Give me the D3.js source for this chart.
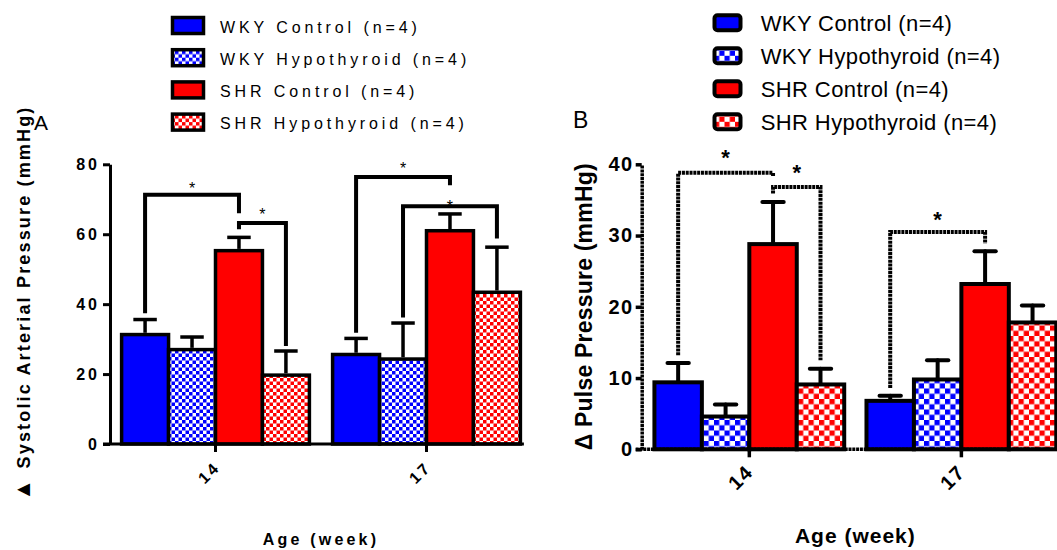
<!DOCTYPE html>
<html><head><meta charset="utf-8">
<script src="https://cdn.jsdelivr.net/npm/d3@7"></script>
<style>body{margin:0;background:#fff} svg{display:block;font-family:"Liberation Sans",Arial,sans-serif}</style>
</head><body><svg id="c" width="1057" height="550"></svg>
<script>
// ---------- DATA ----------
const ages = ["14", "17"];
const seriesNames = ["WKY Control (n=4)", "WKY Hypothyroid (n=4)", "SHR Control (n=4)", "SHR Hypothyroid (n=4)"];

// Panel A: Δ Systolic Arterial Pressure (mmHg), mean per age [14, 17]
const sapWkyControl = [31.3, 25.6];
const sapWkyHypo    = [27.0, 24.3];
const sapShrControl = [55.3, 61.0];
const sapShrHypo    = [19.7, 43.4];
// SEM
const sapSemWkyControl = [4.3, 4.6];
const sapSemWkyHypo    = [3.6, 10.3];
const sapSemShrControl = [3.8, 4.8];
const sapSemShrHypo    = [6.9, 12.9];
const sapTicks = [0, 20, 40, 60, 80];
// significance brackets: leg values (left, top, right) and star value
const sapBrackets = [
  {age: "14", from: 0, to: 2, left: 37.4, top: 71.3, right: 66.0, star: 74.0},
  {age: "14", from: 2, to: 3, left: 61.4, top: 63.2, right: 28.0, star: 66.7},
  {age: "17", from: 0, to: 2, left: 31.8, top: 76.4, right: 74.0, star: 79.7},
  {age: "17", from: 1, to: 3, left: 36.2, top: 68.0, right: 58.8, star: 68.9}
];

// Panel B: Δ Pulse Pressure (mmHg)
const ppWkyControl = [9.4, 6.8];
const ppWkyHypo    = [4.6, 9.8];
const ppShrControl = [28.8, 23.2];
const ppShrHypo    = [9.1, 17.8];
const ppSemWkyControl = [2.7, 0.7];
const ppSemWkyHypo    = [1.7, 2.7];
const ppSemShrControl = [5.9, 4.6];
const ppSemShrHypo    = [2.2, 2.4];
const ppTicks = [0, 10, 20, 30, 40];
const ppBrackets = [
  {age: "14", from: 0, to: 2, left: 13.2, top: 38.8, right: 38.3, star: 41.6},
  {age: "14", from: 2, to: 3, left: 35.9, top: 36.8, right: 12.5, star: 39.5},
  {age: "17", from: 0, to: 2, left: 8.6, top: 30.5, right: 28.9, star: 33.0}
];

// ---------- DRAW ----------
const svg = d3.select("#c");
const defs = svg.append("defs");
function checker(id, color, s) {
  const p = defs.append("pattern").attr("id", id).attr("patternUnits", "userSpaceOnUse")
    .attr("width", 2 * s).attr("height", 2 * s);
  p.append("rect").attr("width", 2 * s).attr("height", 2 * s).attr("fill", "#fff");
  p.append("rect").attr("width", s).attr("height", s).attr("fill", color);
  p.append("rect").attr("x", s).attr("y", s).attr("width", s).attr("height", s).attr("fill", color);
}
checker("ckBlueA", "#0000ff", 3.5);
checker("ckRedA", "#ff0000", 3.5);
checker("ckBlueB", "#0000ff", 5.25);
checker("ckRedB", "#ff0000", 5.25);
function fillFor(i, panel) {
  return ["#0000ff", `url(#ckBlue${panel})`, "#ff0000", `url(#ckRed${panel})`][i];
}

function drawPanel(p) {
  const g = svg.append("g");
  const y = d3.scaleLinear().domain([0, p.ticks[p.ticks.length - 1]]).range([p.y0, p.yTop]);
  const x0 = d3.scaleBand().domain(ages).range([p.xLeft, p.xRight]).paddingInner(p.pi).paddingOuter(p.po);
  const x1 = d3.scaleBand().domain(d3.range(4)).range([0, x0.bandwidth()]);
  const cx = (a, s) => x0(a) + x1(s) + x1.bandwidth() / 2;
  const rows = [];
  ages.forEach((a, ai) => p.means.forEach((m, si) => rows.push({age: a, s: si, mean: m[ai], sem: p.sems[si][ai]})));

  // bars
  g.append("g").selectAll("rect").data(rows).join("rect")
    .attr("x", d => x0(d.age) + x1(d.s)).attr("y", d => y(d.mean))
    .attr("width", x1.bandwidth()).attr("height", d => y(0) - y(d.mean))
    .attr("fill", d => fillFor(d.s, p.id)).attr("stroke", "#000").attr("stroke-width", p.barW);
  // error bars
  const eb = g.append("g").attr("stroke", "#000").attr("stroke-width", p.ebW).attr("stroke-linecap", p.cap);
  eb.selectAll("line.v").data(rows).join("line").attr("class", "v")
    .attr("x1", d => cx(d.age, d.s)).attr("x2", d => cx(d.age, d.s))
    .attr("y1", d => y(d.mean) - p.barW / 2).attr("y2", d => y(d.mean + d.sem));
  eb.selectAll("line.h").data(rows).join("line").attr("class", "h")
    .attr("x1", d => cx(d.age, d.s) - x1.bandwidth() * p.capFrac / 2)
    .attr("x2", d => cx(d.age, d.s) + x1.bandwidth() * p.capFrac / 2)
    .attr("y1", d => y(d.mean + d.sem)).attr("y2", d => y(d.mean + d.sem));

  // y axis
  const ya = g.append("g").attr("transform", `translate(${p.xLeft},0)`)
    .call(d3.axisLeft(y).tickValues(p.ticks).tickSize(p.tickLen).tickPadding(p.tickPad).tickSizeOuter(0));
  ya.select(".domain").attr("stroke-width", p.axisW).attr("stroke-dasharray", p.dash);
  ya.selectAll(".tick line").attr("stroke-width", p.axisW);
  ya.selectAll(".tick text").attr("font-size", p.tickFont).attr("font-weight", "bold")
    .attr("letter-spacing", p.tickLs).attr("fill", "#000").attr("font-family", "Liberation Sans, Arial, sans-serif");

  // x axis
  const xa = g.append("g").attr("transform", `translate(0,${p.y0})`)
    .call(d3.axisBottom(x0).tickSize(p.xTickLen).tickFormat("").tickSizeOuter(0));
  xa.select(".domain").remove();
  xa.selectAll(".tick line").attr("stroke-width", p.axisW);
  const lastEnd = x0(ages[ages.length - 1]) + x0.bandwidth() + p.barW;
  g.append("line").attr("x1", p.xLeft - p.tickLen).attr("x2", lastEnd)
    .attr("y1", p.y0).attr("y2", p.y0).attr("stroke", "#000")
    .attr("stroke-width", p.axisW).attr("stroke-dasharray", p.dash);
  g.selectAll("text.xt").data(ages).join("text").attr("class", "xt")
    .attr("transform", d => `translate(${x0(d) + x0.bandwidth() / 2 + p.xtDx},${p.y0 + p.xtDy}) rotate(-45)`)
    .attr("text-anchor", "end").attr("font-size", p.tickFont).attr("font-weight", "bold")
    .attr("letter-spacing", p.tickLs).text(d => d);

  // brackets
  const bg = g.append("g");
  bg.selectAll("path").data(p.brackets).join("path")
    .attr("d", b => `M${cx(b.age, b.from)},${y(b.left)}V${y(b.top)}H${cx(b.age, b.to)}V${y(b.right)}`)
    .attr("fill", "none").attr("stroke", "#000").attr("stroke-width", p.brW)
    .attr("stroke-dasharray", p.brDash);
  bg.selectAll("text").data(p.brackets).join("text")
    .attr("x", b => (cx(b.age, b.from) + cx(b.age, b.to)) / 2)
    .attr("y", b => y(b.star) + p.starFont * 0.57)
    .attr("text-anchor", "middle").attr("font-size", p.starFont).attr("font-weight", p.starWeight).text("*");

  // axis titles
  const yl = g.append("text").attr("transform", `translate(${p.ylabX},${(p.y0 + p.yTop) / 2 + p.ylabDy}) rotate(-90)`)
    .attr("text-anchor", "middle").attr("font-size", p.ylabFont).attr("font-weight", "bold")
    .attr("textLength", p.ylabLen).attr("lengthAdjust", "spacing");
  yl.append("tspan").attr("font-size", p.deltaFont).text(p.ylabDelta);
  yl.append("tspan").text(p.ylab);
  g.append("text").attr("x", (p.xLeft + p.xRight) / 2).attr("y", p.xlabY)
    .attr("text-anchor", "middle").attr("font-size", p.xlabFont).attr("font-weight", "bold")
    .attr("letter-spacing", p.xlabLs).text("Age (week)");

  // panel letter
  g.append("text").attr("x", p.letterX).attr("y", p.letterY).attr("font-size", p.letterFont).text(p.letter);

  // legend
  const lg = g.append("g");
  const row = lg.selectAll("g").data(seriesNames).join("g")
    .attr("transform", (d, i) => `translate(0,${p.legY + i * p.legStep})`);
  row.append("rect").attr("x", p.legX).attr("y", -p.swH / 2).attr("width", p.swW).attr("height", p.swH)
    .attr("rx", p.swR).attr("fill", (d, i) => fillFor(i, p.id)).attr("stroke", "#000").attr("stroke-width", p.swStroke);
  row.append("text").attr("x", p.legTextX).attr("y", p.legTextDy).attr("font-size", p.legFont)
    .attr("letter-spacing", p.legLs).text(d => d);
}

drawPanel({
  id: "A", letter: "A", letterX: 34, letterY: 130, letterFont: 21,
  means: [sapWkyControl, sapWkyHypo, sapShrControl, sapShrHypo],
  sems: [sapSemWkyControl, sapSemWkyHypo, sapSemShrControl, sapSemShrHypo],
  ticks: sapTicks, brackets: sapBrackets,
  y0: 444, yTop: 164.3, xLeft: 110, xRight: 532, pi: 0.11, po: 0.055,
  barW: 3.5, ebW: 3.5, cap: "butt", capFrac: 0.5, axisW: 3, dash: null,
  tickLen: 7, tickPad: 3, tickFont: 16, tickLs: 3, xTickLen: 8, xtDx: 6, xtDy: 24,
  brW: 4, brDash: null, starFont: 16, starWeight: "normal",
  ylabDelta: "▲ ", deltaFont: 22, ylab: "Systolic Arterial Pressure (mmHg)", ylabX: 30, ylabDy: 0, ylabFont: 18, ylabLen: 393,
  xlabY: 545, xlabFont: 16, xlabLs: 3.2,
  legX: 172.5, legY: 25.5, legStep: 32.2, swW: 31, swH: 16, swR: 0, swStroke: 3.5,
  legTextX: 220, legTextDy: 7, legFont: 16, legLs: 3.9
});

drawPanel({
  id: "B", letter: "B", letterX: 573, letterY: 128, letterFont: 23,
  means: [ppWkyControl, ppWkyHypo, ppShrControl, ppShrHypo],
  sems: [ppSemWkyControl, ppSemWkyHypo, ppSemShrControl, ppSemShrHypo],
  ticks: ppTicks, brackets: ppBrackets,
  y0: 449.3, yTop: 164.3, xLeft: 641.7, xRight: 1069, pi: 0.105, po: 0.06,
  barW: 4, ebW: 4, cap: "round", capFrac: 0.45, axisW: 3.5, dash: "3,0.8",
  tickLen: 6, tickPad: 2, tickFont: 20, tickLs: 1.5, xTickLen: 8, xtDx: 5, xtDy: 24,
  brW: 4, brDash: "3,0.8", starFont: 22, starWeight: "bold",
  ylabDelta: "Δ ", deltaFont: 23, ylab: "Pulse Pressure (mmHg)", ylabX: 592, ylabDy: 0, ylabFont: 23, ylabLen: 287,
  xlabY: 543, xlabFont: 21, xlabLs: 1,
  legX: 714.5, legY: 22.8, legStep: 33, swW: 26, swH: 15, swR: 3, swStroke: 4,
  legTextX: 760.7, legTextDy: 8, legFont: 22, legLs: 0.4
});
</script></body></html>
